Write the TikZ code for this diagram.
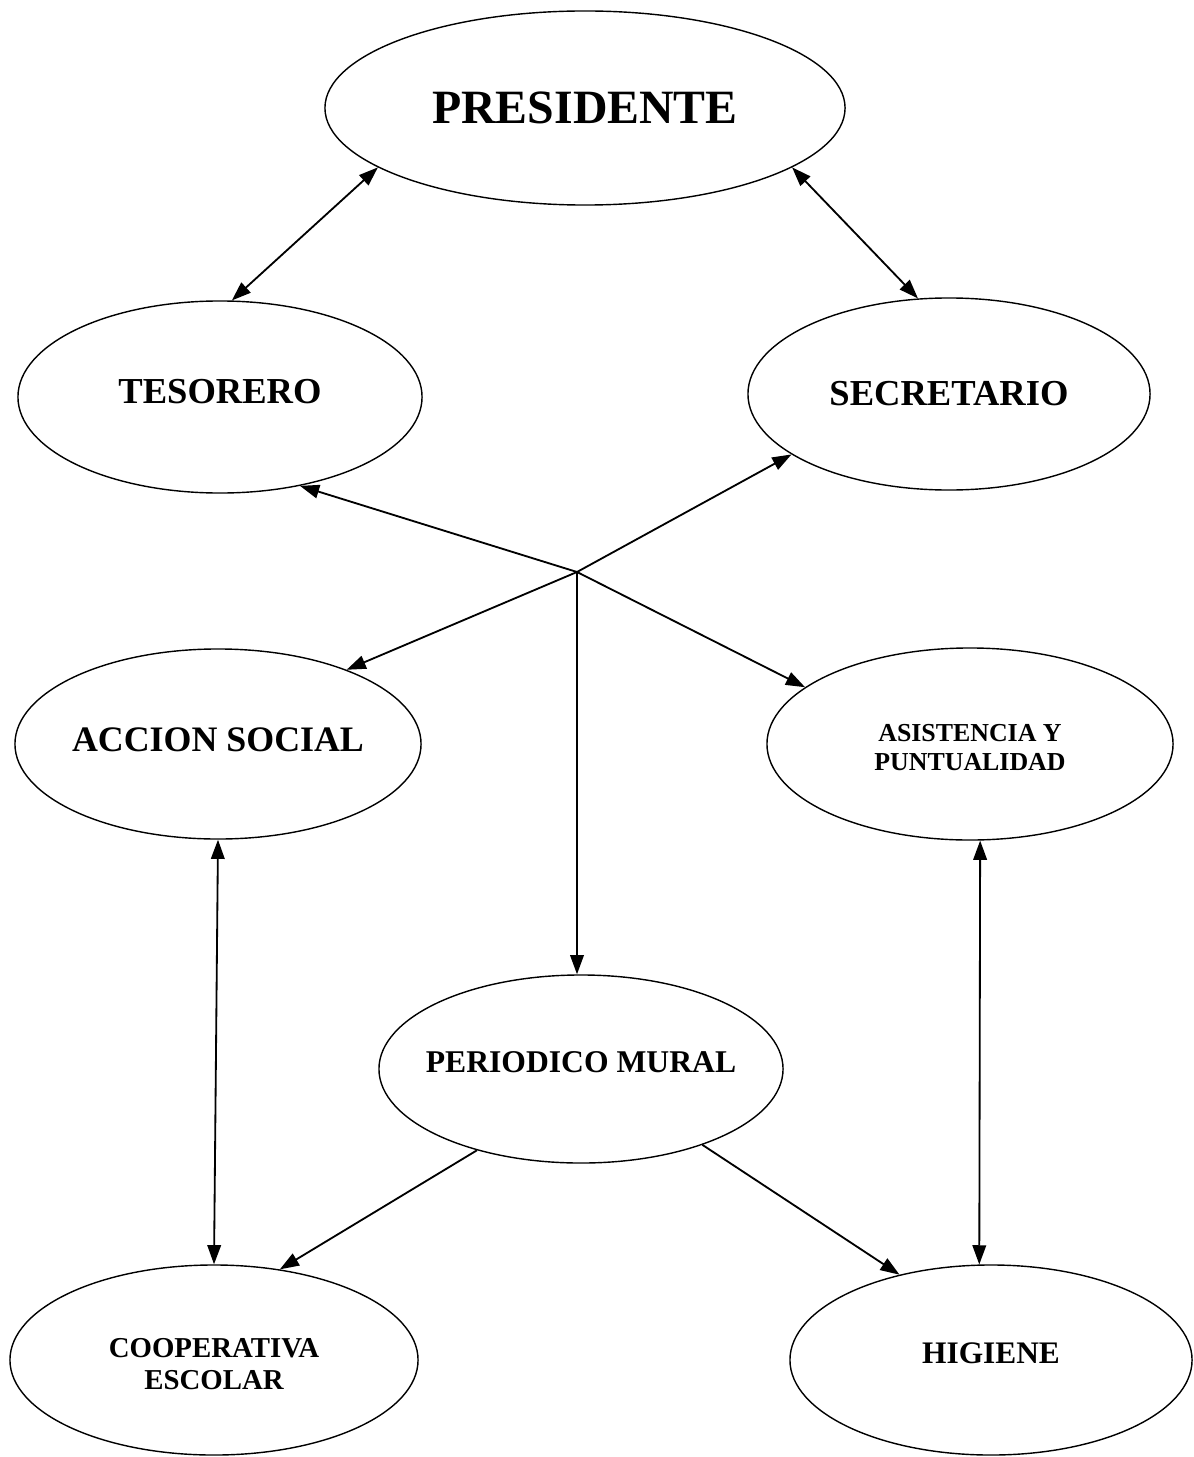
\documentclass[tikz,border=0pt]{standalone}
\usepackage{fontspec}
\setmainfont{Liberation Serif}
\usepackage{tikz}
\usetikzlibrary{shapes,arrows,positioning,calc,arrows.meta}

\begin{document}
\begin{tikzpicture}[x=0.025cm, y=-0.025cm,
    cargo/.style={ellipse, draw, line width=1pt, inner sep=-1cm, font=\bfseries, align=center},
    flecha/.style={line width=1.3pt, -{Triangle[length=0.48cm, width=0.34cm]}},
    dobleflecha/.style={line width=1.3pt, {Triangle[length=0.48cm, width=0.34cm]}-{Triangle[length=0.48cm, width=0.34cm]}}]
    \useasboundingbox (0,0) rectangle (1194,1457);

    % Cargos
    \node[cargo, minimum width=13cm, minimum height=4.85cm, font=\bfseries\fontsize{34}{40}\selectfont] (pres) at (585,108) {PRESIDENTE};
    \node[cargo, minimum width=10.1cm, minimum height=4.8cm, font=\bfseries\fontsize{26}{30}\selectfont] (tes) at (220,397) {\raisebox{0.3cm}{TESORERO}};
    \node[cargo, minimum width=10.05cm, minimum height=4.8cm, font=\bfseries\fontsize{26}{30}\selectfont] (sec) at (949,394) {SECRETARIO};
    \node[cargo, minimum width=10.15cm, minimum height=4.75cm, font=\bfseries\fontsize{25.5}{28}\selectfont] (acc) at (218,744) {\raisebox{0.2cm}{ACCION SOCIAL}};
    \node[cargo, minimum width=10.15cm, minimum height=4.8cm, font=\bfseries\fontsize{18.4}{20.6}\selectfont] (asis) at (970,744) {\\[-0.1cm]ASISTENCIA Y\\PUNTUALIDAD};
    \node[cargo, minimum width=10.1cm, minimum height=4.7cm, font=\bfseries\fontsize{22.5}{26}\selectfont] (per) at (581,1069) {\raisebox{0.36cm}{PERIODICO MURAL}};
    \node[cargo, minimum width=10.2cm, minimum height=4.75cm, font=\bfseries\fontsize{20.5}{22.7}\selectfont] (coop) at (214,1360) {\raisebox{0pt}[\dimexpr\height+0.35cm\relax]{\begin{tabular}{@{}c@{}}COOPERATIVA\\ESCOLAR\end{tabular}}};
    \node[cargo, minimum width=10.05cm, minimum height=4.75cm, font=\bfseries\fontsize{22.3}{26}\selectfont] (hig) at (991,1360) {\raisebox{0.35cm}{HIGIENE}};

    % punto de reparto
    \coordinate (hub) at (577,572);

    % Conexiones
    \draw[dobleflecha] (pres.196) -- (tes.83);
    \draw[dobleflecha] (pres.344) -- (sec.108);
    \draw[flecha] (hub) -- (tes.312);
    \draw[flecha] (hub) -- (sec.201);
    \draw[flecha] (hub) -- (acc.30);
    \draw[flecha] (hub) -- (asis.161);
    \draw[flecha] (hub) -- (hub |- per.north);
    \draw[dobleflecha] (acc.south) -- (coop.north);
    \draw[dobleflecha] (asis.276) -- (hig.97);
    \draw[flecha] (per.218) -- (coop.54);
    \draw[flecha] (per.328) -- (hig.137);
\end{tikzpicture}
\end{document}
